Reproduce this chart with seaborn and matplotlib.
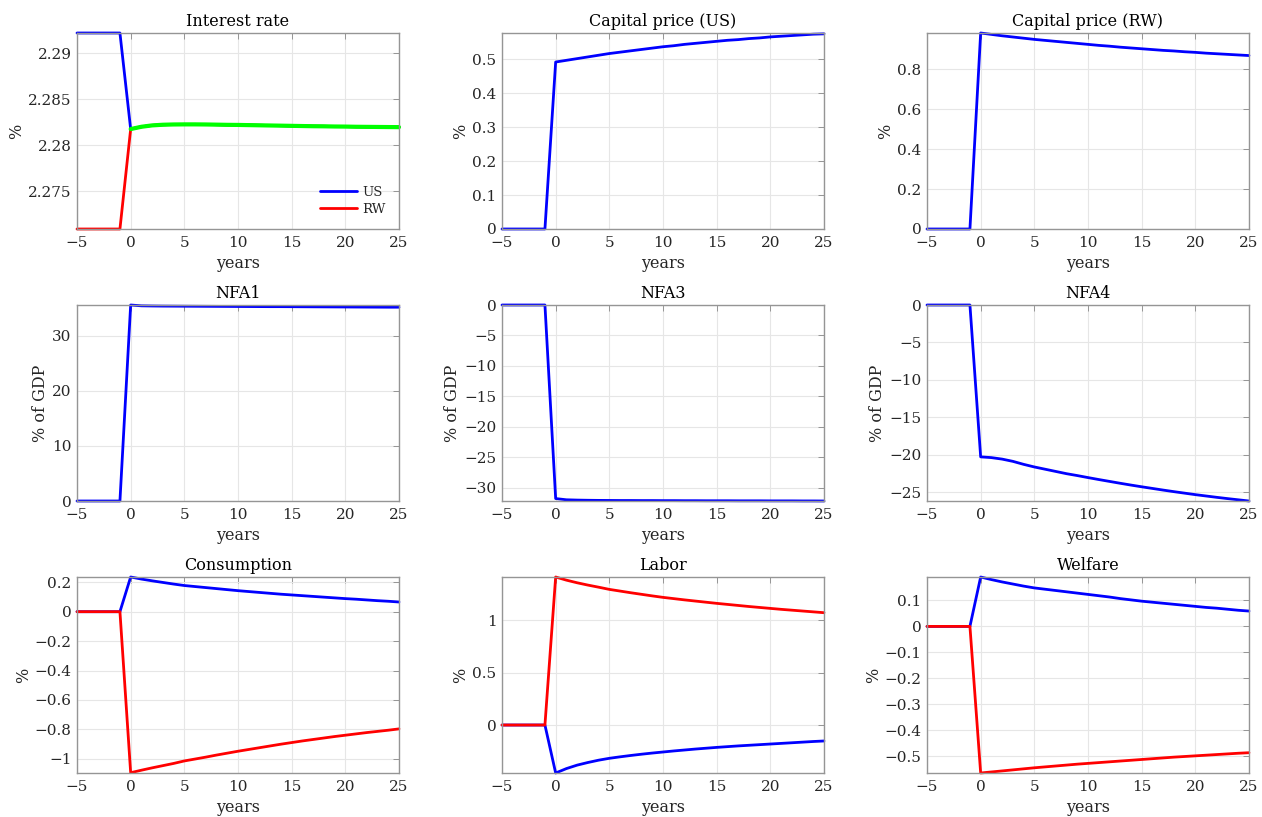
import numpy as np
import pandas as pd
import matplotlib
matplotlib.use("Agg")
import matplotlib.pyplot as plt
from matplotlib.ticker import FuncFormatter
from matplotlib.lines import Line2D
import seaborn as sns

sns.set_theme(style="white")
plt.rcParams['font.family'] = ['DejaVu Serif']
plt.rcParams['axes.unicode_minus'] = True

years = list(range(-5, 26))
pre = [0, 0, 0, 0, 0]

rate_us_pre = [2.2922] * 5
rate_rw_pre = [2.27088] * 5
rate_post = [2.28175, 2.2820, 2.28215, 2.28222, 2.28225, 2.28226, 2.28226, 2.28225,
             2.28223, 2.28221, 2.2822, 2.28218, 2.28216, 2.28214, 2.28212, 2.2821,
             2.28208, 2.28206, 2.28205, 2.28203, 2.28202, 2.282, 2.28199, 2.28198,
             2.28197, 2.28196]

qk_us = [0.492, 0.497, 0.502, 0.507, 0.512, 0.517, 0.521, 0.525, 0.529, 0.533, 0.537,
         0.540, 0.544, 0.547, 0.550, 0.553, 0.556, 0.558, 0.561, 0.563, 0.566, 0.568,
         0.570, 0.572, 0.574, 0.575]
qk_rw = [0.982, 0.975, 0.968, 0.962, 0.956, 0.950, 0.945, 0.940, 0.935, 0.930, 0.925,
         0.920, 0.916, 0.911, 0.907, 0.903, 0.899, 0.895, 0.892, 0.888, 0.885, 0.881,
         0.878, 0.875, 0.872, 0.869]
nfa1 = [35.6, 35.45, 35.42, 35.40, 35.39, 35.38, 35.37, 35.36, 35.35, 35.34, 35.33,
        35.32, 35.31, 35.30, 35.30, 35.29, 35.28, 35.27, 35.26, 35.25, 35.24, 35.23,
        35.22, 35.21, 35.20, 35.20]
nfa3 = [-31.8, -32.0, -32.05, -32.08, -32.1, -32.11, -32.12, -32.12, -32.13, -32.13,
        -32.14, -32.14, -32.15, -32.15, -32.16, -32.16, -32.16, -32.17, -32.17, -32.17,
        -32.18, -32.18, -32.18, -32.19, -32.19, -32.2]
nfa4 = [-20.3, -20.4, -20.6, -20.9, -21.3, -21.65, -21.95, -22.25, -22.55, -22.8,
        -23.07, -23.33, -23.58, -23.83, -24.07, -24.3, -24.52, -24.74, -24.95, -25.15,
        -25.35, -25.53, -25.71, -25.88, -26.04, -26.2]
cons_us = [0.236, 0.222, 0.210, 0.199, 0.188, 0.178, 0.171, 0.164, 0.157, 0.150, 0.143,
           0.137, 0.131, 0.125, 0.119, 0.114, 0.109, 0.104, 0.099, 0.094, 0.089, 0.085,
           0.080, 0.075, 0.071, 0.066]
cons_rw = [-1.095, -1.078, -1.062, -1.047, -1.032, -1.015, -1.002, -0.989, -0.975,
           -0.962, -0.949, -0.937, -0.925, -0.913, -0.901, -0.890, -0.879, -0.869,
           -0.859, -0.849, -0.840, -0.831, -0.822, -0.814, -0.806, -0.797]
lab_us = [-0.457, -0.415, -0.382, -0.357, -0.335, -0.317, -0.303, -0.290, -0.278,
          -0.267, -0.257, -0.247, -0.238, -0.229, -0.221, -0.213, -0.206, -0.199,
          -0.193, -0.187, -0.181, -0.175, -0.169, -0.163, -0.157, -0.152]
lab_rw = [1.41, 1.38, 1.355, 1.333, 1.313, 1.292, 1.276, 1.260, 1.245, 1.230, 1.216,
          1.204, 1.192, 1.181, 1.170, 1.159, 1.149, 1.139, 1.129, 1.120, 1.111, 1.102,
          1.094, 1.086, 1.078, 1.070]
wel_us = [0.190, 0.180, 0.171, 0.163, 0.155, 0.148, 0.143, 0.138, 0.133, 0.128, 0.123,
          0.118, 0.113, 0.107, 0.102, 0.097, 0.093, 0.089, 0.085, 0.081, 0.077, 0.073,
          0.070, 0.066, 0.062, 0.059]
wel_rw = [-0.564, -0.560, -0.556, -0.552, -0.548, -0.544, -0.5405, -0.537, -0.5335,
          -0.530, -0.527, -0.524, -0.521, -0.518, -0.515, -0.512, -0.509, -0.506,
          -0.503, -0.5005, -0.498, -0.4955, -0.493, -0.4905, -0.488, -0.486]

titles = ["Interest rate", "Capital price (US)", "Capital price (RW)",
          "NFA1", "NFA3", "NFA4", "Consumption", "Labor", "Welfare"]
ylabels = ["%", "%", "%", "% of GDP", "% of GDP", "% of GDP", "%", "%", "%"]
xticks = [-5, 0, 5, 10, 15, 20, 25]

BLUE = "#0000ff"
RED = "#ff0000"
GREEN = "#00ff00"
TXT = "#262626"
SPINE = "#959595"

fig = plt.figure(figsize=(12.62, 8.17), dpi=100)
W, H = 1262, 817
lefts = [77, 502, 927]
tops = [33, 305, 577]
aw, ah = 322, 196

axes = []
for r in range(3):
    for c in range(3):
        ax = fig.add_axes([lefts[c] / W, 1 - (tops[r] + ah) / H, aw / W, ah / H])
        axes.append(ax)

fmt = FuncFormatter(lambda v, p: ("%g" % round(v, 6)).replace("-", "\u2212"))

def style(ax, title, ylabel, yticks):
    ax.set_xlim(-5, 25)
    ax.set_xticks(xticks)
    ax.set_yticks(yticks)
    ax.xaxis.set_major_formatter(fmt)
    ax.yaxis.set_major_formatter(fmt)
    ax.grid(True, color="#e6e6e6", linewidth=0.8)
    ax.set_axisbelow(True)
    for s in ax.spines.values():
        s.set_color(SPINE)
        s.set_linewidth(1.0)
    ax.tick_params(direction="in", top=True, right=True, length=4, width=0.7,
                   color=SPINE, labelcolor=TXT, labelsize=11)
    ax.tick_params(axis="x", pad=5)
    ax.tick_params(axis="y", pad=4)
    ax.set_title(title, fontsize=11.5, color="black", pad=5)
    ax.set_ylabel(ylabel, fontsize=11.5, color=TXT, labelpad=2)
    ax.set_xlabel("years", fontsize=11.5, color=TXT, labelpad=4)
    ax.set_facecolor("white")

def line(ax, x, y, color, lw=2.0):
    sns.lineplot(x=x, y=y, ax=ax, color=color, linewidth=lw,
                 legend=False, estimator=None, clip_on=False)

# Interest rate
ax = axes[0]
line(ax, years, rate_us_pre + rate_post, BLUE)
line(ax, years, rate_rw_pre + rate_post, RED)
line(ax, years[5:], rate_post, GREEN, lw=3.0)
ax.set_ylim(2.27088, 2.2922)
style(ax, titles[0], ylabels[0], [2.275, 2.28, 2.285, 2.29])
handles = [Line2D([0], [0], color=BLUE, lw=2), Line2D([0], [0], color=RED, lw=2)]
ax.legend(handles, ["US", "RW"], loc="lower right", frameon=False, fontsize=9.5,
          handlelength=2.8, borderaxespad=0.6, labelspacing=0.3, handletextpad=0.4)

# Capital price US
ax = axes[1]
line(ax, years, pre + qk_us, BLUE)
ax.set_ylim(0, 0.5775)
style(ax, titles[1], ylabels[1], [0, 0.1, 0.2, 0.3, 0.4, 0.5])

# Capital price RW
ax = axes[2]
line(ax, years, pre + qk_rw, BLUE)
ax.set_ylim(0, 0.982)
style(ax, titles[2], ylabels[2], [0, 0.2, 0.4, 0.6, 0.8])

# NFA1
ax = axes[3]
line(ax, years, pre + nfa1, BLUE)
ax.set_ylim(0, 35.6)
style(ax, titles[3], ylabels[3], [0, 10, 20, 30])

# NFA3
ax = axes[4]
line(ax, years, pre + nfa3, BLUE)
ax.set_ylim(-32.2, 0)
style(ax, titles[4], ylabels[4], [-30, -25, -20, -15, -10, -5, 0])

# NFA4
ax = axes[5]
line(ax, years, pre + nfa4, BLUE)
ax.set_ylim(-26.2, 0)
style(ax, titles[5], ylabels[5], [-25, -20, -15, -10, -5, 0])

# Consumption
ax = axes[6]
line(ax, years, pre + cons_us, BLUE)
line(ax, years, pre + cons_rw, RED)
ax.set_ylim(-1.097, 0.236)
style(ax, titles[6], ylabels[6], [-1, -0.8, -0.6, -0.4, -0.2, 0, 0.2])

# Labor
ax = axes[7]
line(ax, years, pre + lab_us, BLUE)
line(ax, years, pre + lab_rw, RED)
ax.set_ylim(-0.457, 1.41)
style(ax, titles[7], ylabels[7], [0, 0.5, 1])

# Welfare
ax = axes[8]
line(ax, years, pre + wel_us, BLUE)
line(ax, years, pre + wel_rw, RED)
ax.set_ylim(-0.564, 0.19)
style(ax, titles[8], ylabels[8], [-0.5, -0.4, -0.3, -0.2, -0.1, 0, 0.1])

fig.savefig("out.png", dpi=100, facecolor="white")
